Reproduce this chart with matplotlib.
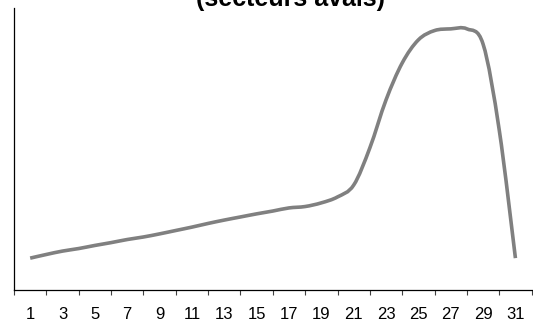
import matplotlib
matplotlib.use("Agg")
import matplotlib.pyplot as plt
from matplotlib.path import Path
from matplotlib.patches import PathPatch
import numpy as np

# days of the month and the index
days = list(range(1, 32))
values = [11.3, 12.6, 13.8, 14.7, 15.8, 16.8, 17.9, 18.8, 19.9, 21.1,
          22.3, 23.6, 24.8, 25.9, 27.0, 28.0, 29.1, 29.6, 30.9, 33.0,
          37.2, 50.4, 67.4, 80.5, 88.7, 92.0, 92.6, 92.6, 87.2, 56.7,
          11.3]
tick_labels = [str(d) for d in range(1, 32, 2)]
title = "(secteurs avals)"

plt.rcParams["font.family"] = ["Liberation Sans", "DejaVu Sans"]


def smooth_path(x, y):
    # Excel-style smoothed line: cubic Bezier through every point
    p = np.column_stack([x, y]).astype(float)
    padded = np.vstack([p[0], p, p[-1]])
    verts = [p[0]]
    codes = [Path.MOVETO]
    for i in range(len(p) - 1):
        c1 = padded[i + 1] + (padded[i + 2] - padded[i]) / 6
        c2 = padded[i + 2] - (padded[i + 3] - padded[i + 1]) / 6
        verts += [c1, c2, p[i + 1]]
        codes += [Path.CURVE4] * 3
    return Path(verts, codes)


fig = plt.figure(figsize=(5.33, 3.23), dpi=100)
ax = fig.add_axes([14 / 533, 33 / 323, 517.6 / 533, 282 / 323])

ax.add_patch(PathPatch(smooth_path(days, values), facecolor="none",
                       edgecolor="#808080", linewidth=2.6,
                       joinstyle="round", capstyle="butt"))

ax.set_xlim(0, 32)
ax.set_ylim(0, 100)

ax.set_xticks(np.arange(0, 33, 2))
ax.set_xticklabels([])
ax.set_xticks(range(1, 32, 2), minor=True)
ax.set_xticklabels(tick_labels, minor=True, fontsize=12)
ax.tick_params(axis="x", which="major", direction="out", length=3.5,
               width=0.8, color="#404040")
ax.tick_params(axis="x", which="minor", length=0, pad=12)
ax.set_yticks([])

for side in ("top", "right"):
    ax.spines[side].set_visible(False)
for side in ("left", "bottom"):
    ax.spines[side].set_linewidth(0.9)
    ax.spines[side].set_color("black")

fig.text(290 / 533, 1 - 6 / 323, title, ha="center", va="baseline",
         fontsize=18, fontweight="bold")

fig.savefig("out.png", dpi=100)
